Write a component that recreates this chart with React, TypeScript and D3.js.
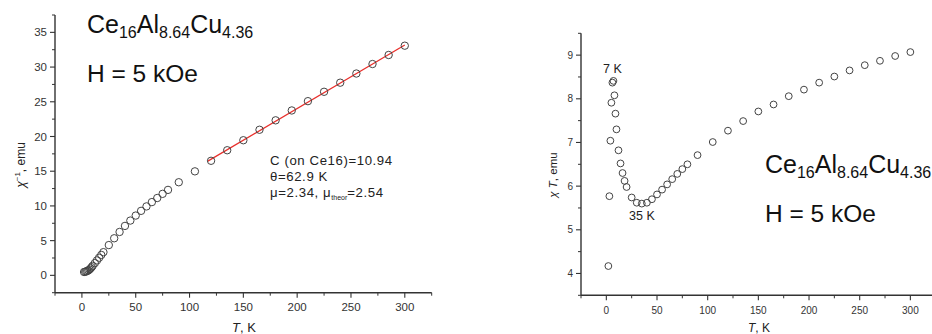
import React from "react";
import * as d3 from "d3";

// Measurement temperatures (K)
const temps = [2, 3, 4, 5, 6, 7, 8, 9, 10, 12, 14, 16, 18, 20, 25, 30, 35, 40, 45, 50, 55, 60, 65, 70, 75, 80, 90, 105, 120, 135, 150, 165, 180, 195, 210, 225, 240, 255, 270, 285, 300];

// Inverse susceptibility χ⁻¹ (emu⁻¹)
const chiInv = [0.48, 0.52, 0.57, 0.63, 0.72, 0.83, 0.99, 1.17, 1.37, 1.76, 2.15, 2.54, 2.94, 3.34, 4.36, 5.34, 6.25, 7.12, 7.89, 8.61, 9.29, 9.93, 10.55, 11.14, 11.74, 12.31, 13.41, 14.98, 16.5, 18.02, 19.46, 20.97, 22.33, 23.75, 25.09, 26.44, 27.75, 29.07, 30.44, 31.74, 33.08];

// χT product (emu·K)
const chiT = [4.17, 5.77, 7.04, 7.91, 8.37, 8.41, 8.08, 7.66, 7.3, 6.82, 6.52, 6.3, 6.12, 5.98, 5.74, 5.62, 5.6, 5.62, 5.7, 5.81, 5.92, 6.04, 6.16, 6.28, 6.39, 6.5, 6.71, 7.01, 7.27, 7.49, 7.71, 7.87, 8.06, 8.21, 8.37, 8.51, 8.65, 8.77, 8.87, 8.98, 9.07];

// Curie–Weiss fit parameters
const curieC = 10.94;
const weissTheta = 62.9;
const fitRange = [117, 300];

// Tick values
const xTicks = [0, 50, 100, 150, 200, 250, 300];
const xMinor = [-25, 25, 75, 125, 175, 225, 275, 325];
const leftYTicks = [0, 5, 10, 15, 20, 25, 30, 35];
const leftYMinor = [-2.5, 2.5, 7.5, 12.5, 17.5, 22.5, 27.5, 32.5, 37.5];
const rightYTicks = [4, 5, 6, 7, 8, 9];
const rightYMinor = [3.5, 4.5, 5.5, 6.5, 7.5, 8.5, 9.5];

const FONT = "'Liberation Sans', Arial, Helvetica, sans-serif";
const AX = "#333";

type Scale = d3.ScaleLinear<number, number>;

function Axes({ x, y, xt, xm, yt, ym, fs }: { x: Scale; y: Scale; xt: number[]; xm: number[]; yt: number[]; ym: number[]; fs: number }) {
  const [x0, x1] = x.range();
  const [yb, yt0] = y.range();
  return (
    <g stroke={AX} fill="none">
      <line x1={x0} x2={x1} y1={yb} y2={yb} strokeWidth={1.4} />
      <line x1={x0} x2={x0} y1={yb} y2={yt0} strokeWidth={1.4} />
      {xt.map((v) => (
        <g key={"xt" + v}>
          <line x1={x(v)} x2={x(v)} y1={yb} y2={yb + 5} strokeWidth={1.1} />
          <text x={x(v)} y={yb + 18.5} textAnchor="middle" fontSize={fs} fill={AX} stroke="none" fontFamily={FONT}>{v}</text>
        </g>
      ))}
      {xm.map((v) => (
        <line key={"xm" + v} x1={x(v)} x2={x(v)} y1={yb} y2={yb + 3} strokeWidth={1} />
      ))}
      {yt.map((v) => (
        <g key={"yt" + v}>
          <line x1={x0 - 5} x2={x0} y1={y(v)} y2={y(v)} strokeWidth={1.1} />
          <text x={x0 - 8} y={y(v) + fs * 0.36} textAnchor="end" fontSize={fs} fill={AX} stroke="none" fontFamily={FONT}>{v}</text>
        </g>
      ))}
      {ym.map((v) => (
        <line key={"ym" + v} x1={x0 - 3} x2={x0} y1={y(v)} y2={y(v)} strokeWidth={1} />
      ))}
    </g>
  );
}

function Formula({ x, y }: { x: number; y: number }) {
  const sub = { fontSize: 16 };
  return (
    <g fontFamily={FONT} fill="#111">
      <text x={x} y={y} fontSize={25}>
        Ce<tspan dy={4.5} {...sub}>16</tspan>
        <tspan dy={-4.5}>Al</tspan>
        <tspan dy={4.5} {...sub}>8.64</tspan>
        <tspan dy={-4.5}>Cu</tspan>
        <tspan dy={4.5} {...sub}>4.36</tspan>
      </text>
      <text x={x} y={y + 49} fontSize={24.5}>H = 5 kOe</text>
    </g>
  );
}

export default function App() {
  const xL = d3.scaleLinear().domain([-25, 325]).range([55, 431.7]);
  const yL = d3.scaleLinear().domain([-2.5, 37.5]).range([292.7, 15]);
  const xR = d3.scaleLinear().domain([-25, 325]).range([581, 935.7]);
  const yR = d3.scaleLinear().domain([3.5, 9.5]).range([295.3, 33.3]);

  const fit = d3
    .line<number>()
    .x((t) => xL(t))
    .y((t) => yL((t + weissTheta) / curieC))(fitRange);

  return (
    <svg width={932} height={334} style={{ position: "absolute", left: 0, top: 0, background: "#fff" }} fontFamily={FONT}>
      <rect width={932} height={334} fill="#fff" />

      {/* χ⁻¹(T) panel */}
      <Axes x={xL} y={yL} xt={xTicks} xm={xMinor} yt={leftYTicks} ym={leftYMinor} fs={11.5} />
      <path d={fit ?? ""} stroke="#e8302c" strokeWidth={1.3} fill="none" />
      {temps.map((t, i) => (
        <circle key={"l" + i} cx={xL(t)} cy={yL(chiInv[i])} r={3.7} fill="none" stroke="#444" strokeWidth={1} />
      ))}
      <Formula x={87} y={33.3} />
      <g fontSize={13.2} fill="#222" letterSpacing={0.6}>
        <text x={270} y={165}>C (on Ce16)={curieC.toFixed(2)}</text>
        <text x={270} y={181}>θ={weissTheta.toFixed(1)} K</text>
        <text x={270} y={197}>
          μ=2.34, μ<tspan fontSize={7} dy={2.5} letterSpacing={0}>theor</tspan>
          <tspan dy={-2.5}>=2.54</tspan>
        </text>
      </g>
      <text transform="translate(25,165) rotate(-90)" textAnchor="middle" fontSize={12} fill="#222">
        <tspan fontStyle="italic">χ</tspan>
        <tspan fontSize={8} dy={-5}>−1</tspan>
        <tspan dy={5}>, emu</tspan>
      </text>
      <text x={244} y={332} textAnchor="middle" fontSize={13} fill="#222">
        <tspan fontStyle="italic">T</tspan>, K
      </text>

      {/* χT(T) panel */}
      <Axes x={xR} y={yR} xt={xTicks} xm={xMinor} yt={rightYTicks} ym={rightYMinor} fs={10} />
      {temps.map((t, i) => (
        <circle key={"r" + i} cx={xR(t)} cy={yR(chiT[i])} r={3.4} fill="none" stroke="#444" strokeWidth={1} />
      ))}
      <text x={603} y={72.7} fontSize={12.5} fill="#222">7 K</text>
      <text x={629} y={220} fontSize={12.5} fill="#222">35 K</text>
      <Formula x={765} y={173.3} />
      <text transform="translate(557,175) rotate(-90)" textAnchor="middle" fontSize={11.5} fill="#222">
        <tspan fontStyle="italic">χ T</tspan>, emu
      </text>
      <text x={759} y={332} textAnchor="middle" fontSize={12} fill="#222">
        <tspan fontStyle="italic">T</tspan>, K
      </text>
    </svg>
  );
}
